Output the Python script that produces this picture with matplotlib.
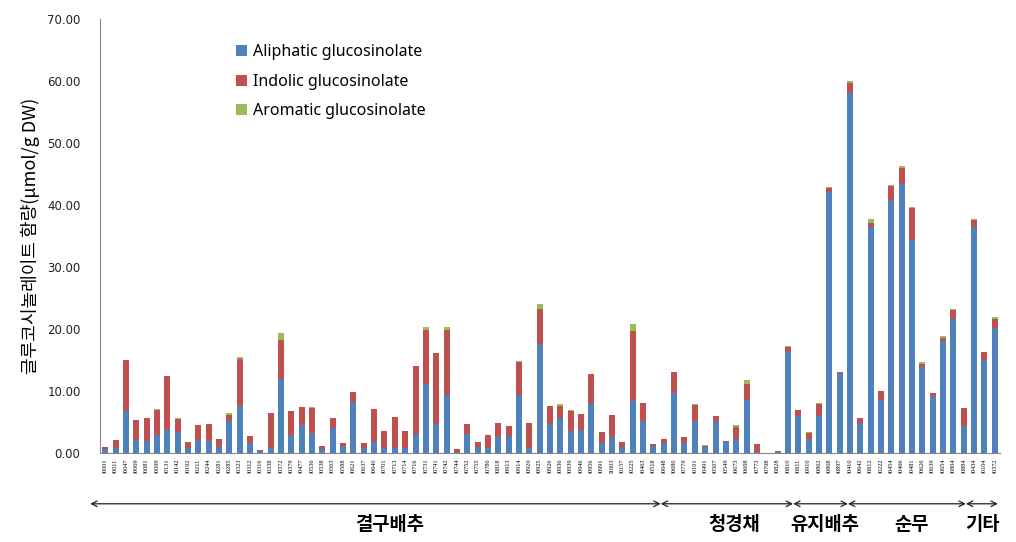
"""Stacked glucosinolate content per accession."""

import matplotlib
matplotlib.use("Agg")
import matplotlib.pyplot as plt
import numpy as np

plt.rcParams["font.family"] = ["Noto Sans CJK KR", "DejaVu Sans"]

accessions = [
    "I0001", "I0011", "I0047", "I0069", "I0081", "I0099", "I0131", "I0142",
    "I0192", "I0211", "I0244", "I0281", "I0285", "I0323", "I0312", "I0316",
    "I0338", "I0372", "I0379", "I0477", "I0536", "I0538", "I0563", "I0588",
    "I0621", "I0637", "I0640", "I0701", "I0713", "I0714", "I0716", "I0731",
    "I0741", "I0742", "I0744", "I0752", "I0755", "I0780", "I0818", "I0913",
    "I0914", "I0920", "I0925", "I0926", "I0936", "I0939", "I0946", "I0956",
    "I0991", "I1003", "I0157", "I0225", "I0463", "I0518", "I0648", "I0680",
    "I0779", "I0101", "I0491", "I0507", "I0549", "I0673", "I0698", "I0773",
    "I0798", "I0828", "I0810", "I0811", "I0910", "I0862", "I0868", "I0897",
    "I0410", "I0642", "I0812", "I0222", "I0454", "I0466", "I0481", "I0626",
    "I0639", "I0654", "I0804", "I0884", "I0434", "I0104", "I0372",
]

aliphatic = [
    0.6, 0.75, 6.7, 2.1, 1.9, 2.9, 3.7, 3.4, 0.75, 2.1, 2.0, 1.0, 5.2, 7.6,
    1.6, 0.3, 0.75, 11.9, 2.9, 4.5, 3.2, 0.6, 4.0, 1.2, 8.3, 0.75, 1.8, 0.75,
    0.85, 0.85, 3.0, 11.2, 4.7, 9.4, 0.2, 3.0, 1.0, 0.85, 2.6, 2.7, 9.4, 0.75,
    17.6, 4.6, 5.6, 3.5, 3.7, 8.0, 1.6, 2.6, 1.0, 8.4, 5.2, 1.1, 1.6, 9.7,
    1.6, 5.2, 1.0, 5.2, 1.7, 2.2, 8.5, 0.1, 0.0, 0.2, 16.3, 5.9, 2.2, 5.9,
    42.1, 12.9, 58.0, 4.8, 36.5, 8.5, 40.8, 43.4, 34.4, 13.9, 9.2, 18.0, 21.6,
    4.4, 36.5, 15.0, 20.1,
]

indolic = [
    0.4, 1.35, 8.3, 3.2, 3.8, 4.0, 8.7, 2.1, 1.05, 2.4, 2.7, 1.2, 1.0, 7.6,
    1.1, 0.2, 5.65, 6.3, 3.8, 2.9, 4.0, 0.6, 1.7, 0.4, 1.5, 0.85, 5.3, 2.85,
    5.0, 2.7, 11.0, 8.7, 11.5, 10.5, 0.4, 1.7, 0.8, 2.05, 2.2, 1.7, 5.3, 4.15,
    5.6, 3.0, 2.0, 3.2, 2.6, 4.7, 1.8, 3.5, 0.8, 11.2, 2.8, 0.3, 0.6, 3.3,
    1.0, 2.5, 0.2, 0.8, 0.2, 2.0, 2.7, 1.35, 0.0, 0.2, 0.8, 1.1, 1.0, 2.0,
    0.6, 0.2, 1.6, 0.8, 0.6, 1.5, 2.2, 2.5, 5.1, 0.5, 0.4, 0.6, 1.4,
    2.8, 1.1, 1.3, 1.5,
]

aromatic = [
    0.0, 0.0, 0.0, 0.0, 0.0, 0.2, 0.0, 0.2, 0.0, 0.0, 0.0, 0.0, 0.2, 0.3,
    0.0, 0.0, 0.0, 1.1, 0.0, 0.0, 0.2, 0.0, 0.0, 0.0, 0.0, 0.0, 0.0, 0.0,
    0.0, 0.0, 0.0, 0.4, 0.0, 0.5, 0.0, 0.0, 0.0, 0.0, 0.0, 0.0, 0.2, 0.0,
    0.9, 0.0, 0.3, 0.2, 0.0, 0.0, 0.0, 0.0, 0.0, 1.2, 0.0, 0.0, 0.0, 0.0,
    0.0, 0.2, 0.1, 0.0, 0.0, 0.3, 0.6, 0.0, 0.0, 0.0, 0.2, 0.0, 0.2, 0.2,
    0.2, 0.0, 0.4, 0.0, 0.6, 0.0, 0.2, 0.4, 0.2, 0.2, 0.0, 0.2, 0.3,
    0.0, 0.2, 0.0, 0.4,
]

groups = ["결구배추", "청경채", "유지배추", "순무", "기타"]
group_edges = [-1.45, 53.7, 66.5, 71.8, 83.2, 86.3]
group_text_x = [27.5, 60.8, 69.6, 77.9, 84.8]

blue = "#4F81BD"
red = "#C0504D"
green = "#9BBB59"


def main():
    fig = plt.figure(figsize=(10.16, 5.42), dpi=100)
    ax = fig.add_axes([100 / 1016, 89 / 542, 900 / 1016, 434 / 542])

    x = np.arange(len(accessions))
    ali = np.array(aliphatic)
    ind = np.array(indolic)
    aro = np.array(aromatic)
    w = 0.58
    ax.bar(x, ali, w, color=blue, label="Aliphatic glucosinolate")
    ax.bar(x, ind, w, bottom=ali, color=red, label="Indolic glucosinolate")
    ax.bar(x, aro, w, bottom=ali + ind, color=green,
           label="Aromatic glucosinolate")

    ax.set_xlim(-0.5, len(accessions) - 0.5)
    ax.set_ylim(0, 70)
    ax.set_yticks(np.arange(0, 71, 10))
    ax.set_yticklabels([f"{v:.2f}" for v in np.arange(0, 71, 10)],
                       fontsize=8.5, family="DejaVu Sans", color="#222222")
    ax.set_xticks(x)
    ax.set_xticklabels(accessions, rotation=90, fontsize=4.5,
                       family="Liberation Serif")
    ax.tick_params(axis="both", length=0, pad=4)
    ax.tick_params(axis="y", pad=14)
    for side in ("top", "right"):
        ax.spines[side].set_visible(False)
    for side in ("left", "bottom"):
        ax.spines[side].set_color("#888888")
        ax.spines[side].set_linewidth(0.8)

    ax.set_ylabel("글루코시놀레이트 함량(μmol/g DW)", fontsize=13, labelpad=5)

    leg = ax.legend(loc="upper left", bbox_to_anchor=(0.135, 0.975),
                    frameon=False, fontsize=11.5, handlelength=0.7,
                    handleheight=0.7, handletextpad=0.4, labelspacing=0.85)
    for t in leg.get_texts():
        t.set_family(["Noto Sans", "DejaVu Sans"])

    # group arrows under the axis
    y_arrow = -0.117
    trans = ax.get_xaxis_transform()
    for i, name in enumerate(groups):
        ax.annotate("", xy=(group_edges[i], y_arrow),
                    xytext=(group_edges[i + 1], y_arrow),
                    xycoords=trans, textcoords=trans,
                    arrowprops=dict(arrowstyle="<->", color="#222222",
                                    lw=0.9, shrinkA=0, shrinkB=0,
                                    mutation_scale=10),
                    annotation_clip=False)
        ax.text(group_text_x[i], -0.165, name, transform=trans,
                ha="center", va="center", fontsize=13.5, fontweight="bold",
                clip_on=False)

    fig.savefig("out.png", dpi=100)


if __name__ == "__main__":
    main()
